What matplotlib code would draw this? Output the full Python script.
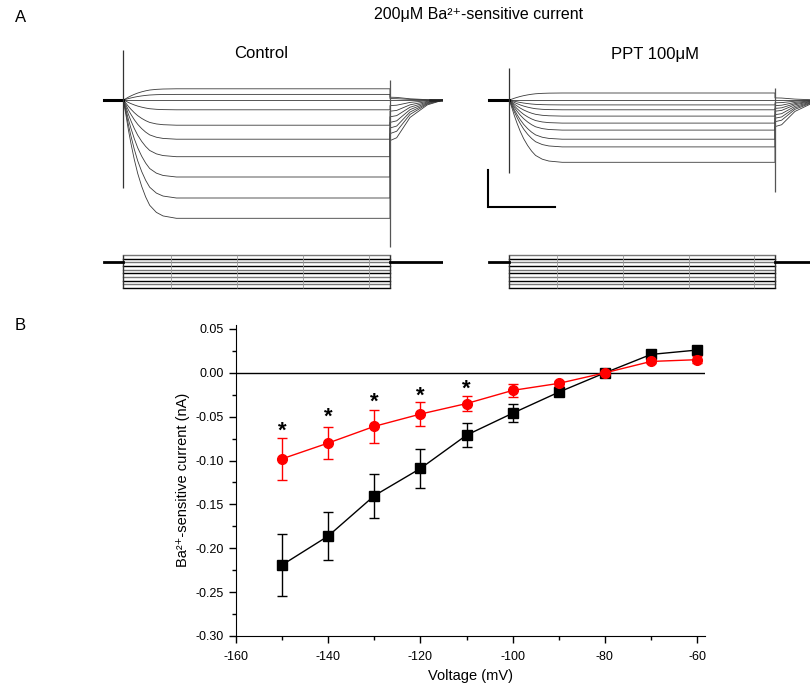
import numpy as np
import matplotlib
matplotlib.use("Agg")
import matplotlib.pyplot as plt

plt.rcParams["font.family"] = ["Liberation Sans", "DejaVu Sans"]
plt.rcParams["axes.unicode_minus"] = False

# ---- panel A: example Ba2+-sensitive current traces (pA vs ms) ----
steps_mv = [-60, -70, -80, -90, -100, -110, -120, -130, -140, -150]
ctrl_steady_pA = [16, 8, 0, -14, -36, -56, -81, -110, -140, -169]
ppt_steady_pA = [10, 0, -7, -14, -23, -33, -43, -56, -67, -89]
ctrl_tail_pA = [4, 2, 0, -8, -16, -24, -32, -40, -48, -58]
ppt_tail_pA = [3, 0, -4, -8, -12, -16, -21, -26, -31, -38]
# activation time course (fraction of steady level)
act_t = [0, 5, 12, 20, 30, 42, 55, 70, 85, 100, 125, 150, 200, 1000]
act_f = [0, 0.05, 0.14, 0.25, 0.37, 0.5, 0.62, 0.73, 0.82, 0.89, 0.95, 0.98, 1.0, 1.0]
# tail decay after the step (fraction of tail amplitude)
tail_t = [1000, 1025, 1075, 1140, 1200]
tail_f = [1.0, 0.93, 0.43, 0.12, 0.0]
# capacitive transients (pA): onset (max, min), offset (max, min)
ctrl_transients = [(71, -126), (29, -210)]
ppt_transients = [(46, -104), (17, -131)]
divider_t = [180, 427, 675, 922]

# ---- panel B: I-V relation ----
volt = [-150, -140, -130, -120, -110, -100, -90, -80, -70, -60]
ctrl_I = [-0.219, -0.186, -0.140, -0.109, -0.071, -0.046, -0.022, 0.000, 0.021, 0.026]
ctrl_err = [0.035, 0.027, 0.025, 0.022, 0.014, 0.010, 0.003, 0.001, 0.002, 0.002]
ppt_I = [-0.098, -0.080, -0.061, -0.047, -0.035, -0.020, -0.012, 0.000, 0.013, 0.015]
ppt_err = [0.024, 0.018, 0.019, 0.014, 0.009, 0.007, 0.003, 0.001, 0.002, 0.004]
star_volt = [-150, -140, -130, -120, -110]
star_y = [-0.066, -0.051, -0.034, -0.027, -0.019]

W, H = 810, 688
fig = plt.figure(figsize=(W / 100, H / 100), dpi=100)


def px_axes(x0, x1, y_top, y_bot):
    ax = fig.add_axes([x0 / W, 1 - y_bot / H, (x1 - x0) / W, (y_bot - y_top) / H])
    ax.set_axis_off()
    ax.patch.set_alpha(0)
    return ax


def draw_traces(onset_px, px_per_ms, xlim, steady, tails, transients, scalebar=False):
    x0 = onset_px + xlim[0] * px_per_ms
    x1 = onset_px + xlim[1] * px_per_ms
    ax = px_axes(x0, x1, 100 - 90 * 0.7, 100 + 230 * 0.7)
    ax.set_xlim(*xlim)
    ax.set_ylim(-230, 90)
    for ss, tl in zip(steady, tails):
        t = [xlim[0] + 10, 0] + act_t + tail_t + [xlim[1]]
        i = [0, 0] + [f * ss for f in act_f] + [f * tl for f in tail_f] + [0]
        ax.plot(t, i, color="#3a3a3a", lw=0.6)
    ax.plot([xlim[0] + 10, 0], [0, 0], color="black", lw=2.2)
    ax.plot([1150, xlim[1]], [0, 0], color="#222222", lw=1.8)
    (on_hi, on_lo), (off_hi, off_lo) = transients
    ax.vlines([0], on_lo, on_hi, color="#333333", lw=0.9)
    ax.vlines([1000], off_lo, off_hi, color="#555555", lw=0.9)
    if scalebar:
        ax.plot([-78, -78, 172], [-100, -153, -153], color="black", lw=1.5,
                solid_joinstyle="miter")

    # voltage protocol
    pa = px_axes(x0, x1, 255 - 15 * 0.367, 255 + 105 * 0.367)
    pa.set_xlim(*xlim)
    pa.set_ylim(-165, -45)
    for k, v in enumerate(steps_mv):
        pa.plot([0, 1000], [v, v], color="black" if k % 2 else "#777777", lw=1.0)
    pa.vlines([0, 1000], min(steps_mv), max(steps_mv), color="#333333", lw=1.0)
    pa.vlines(divider_t, min(steps_mv), max(steps_mv), color="#999999", lw=0.6)
    pa.plot([xlim[0] + 10, 0], [-80, -80], color="black", lw=2)
    pa.plot([1000, xlim[1]], [-80, -80], color="black", lw=2)


draw_traces(123, 0.267, (-80, 1200), ctrl_steady_pA, ctrl_tail_pA, ctrl_transients)
draw_traces(509, 0.266, (-85, 1135), ppt_steady_pA, ppt_tail_pA, ppt_transients, scalebar=True)

fig.text(15 / W, 1 - 18 / H, "A", fontsize=12, ha="left", va="center")
fig.text(479 / W, 1 - 15 / H, "200μM Ba²⁺-sensitive current", fontsize=11.5,
         ha="center", va="center")
fig.text(261 / W, 1 - 53 / H, "Control", fontsize=12, ha="center", va="center")
fig.text(655 / W, 1 - 55 / H, "PPT 100μM", fontsize=12, ha="center", va="center")
fig.text(15 / W, 1 - 326 / H, "B", fontsize=12, ha="left", va="center")

# ---- panel B axes ----
ax = fig.add_axes([236 / W, 1 - 636 / H, (705 - 236) / W, (636 - 324.6) / H])
ax.axhline(0, color="black", lw=1)
ax.errorbar(volt, ctrl_I, yerr=ctrl_err, color="black", marker="s", ms=6.5,
            lw=1, capsize=3.5, elinewidth=1, capthick=1, zorder=3)
ax.errorbar(volt, ppt_I, yerr=ppt_err, color="red", marker="o", ms=7,
            lw=1, capsize=3.5, elinewidth=1, capthick=1, zorder=4)
for v, y in zip(star_volt, star_y):
    ax.text(v, y, "*", ha="center", va="center", fontsize=16, fontweight="bold")

ax.set_xlim(-160, -58.3)
ax.set_ylim(-0.30, 0.055)
ax.set_xticks([-160, -140, -120, -100, -80, -60])
ax.set_xticks([-150, -130, -110, -90, -70], minor=True)
ax.set_yticks(np.arange(-0.30, 0.051, 0.05))
ax.set_yticks(np.arange(-0.275, 0.05, 0.05), minor=True)
ax.yaxis.set_major_formatter(
    matplotlib.ticker.FuncFormatter(lambda y, _: "%.2f" % (0.0 if abs(y) < 1e-9 else y)))
ax.tick_params(which="major", direction="out", length=5, width=1, labelsize=9, pad=4)
ax.tick_params(axis="x", which="major", pad=6)
ax.tick_params(which="minor", direction="out", length=3, width=1)
for side in ("top", "right"):
    ax.spines[side].set_visible(False)
ax.set_xlabel("Voltage (mV)", fontsize=10.5)
ax.set_ylabel("Ba²⁺-sensitive current (nA)", fontsize=10.5)

fig.savefig("out.png", dpi=100)
